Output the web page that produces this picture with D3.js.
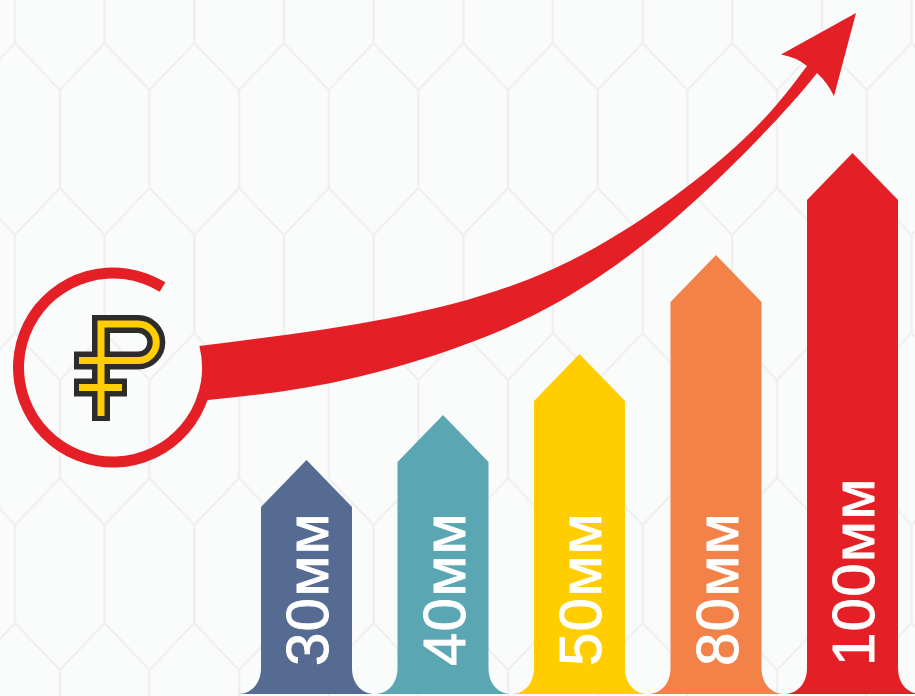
<!DOCTYPE html>
<html>
<head>
<meta charset="utf-8">
<script src="https://cdn.jsdelivr.net/npm/d3@7"></script>
<style>
html,body{margin:0;padding:0;background:#fafbfb;overflow:hidden}
svg{display:block}
</style>
</head>
<body>
<svg id="chart" width="915" height="696"></svg>
<script>
const categories = ["30мм","40мм","50мм","80мм","100мм"];
const values = [30,40,50,80,100];
const colors = ["#566b91","#5aa7b3","#ffcd00","#f28248","#e41f26"];
const trendUpper = [[199,346],[390,318],[553,269],[680,192],[760,123],[807,66]];
const trendLower = [[208,400],[340,381],[490,335],[603,274],[697,199],[780,116],[817,73]];

const W = 915, H = 696, base = 694;
const svg = d3.select("#chart");
const BG = "#fafbfb", GRID = "#f0f0f1", RED = "#e41f26";

svg.append("rect").attr("width",W).attr("height",H).attr("fill",BG);

const grid = d3.path();
const dx = 89.65;
d3.range(-1,11).forEach(k=>{
  const xa = 15 + k*dx, xb = xa + dx/2;
  d3.range(-1,3).forEach(r=>{
    const t = 43 + r*290;
    grid.moveTo(xa,t-98); grid.lineTo(xa,t);
    grid.lineTo(xb,t+47);
    grid.lineTo(xa+dx,t);
    grid.moveTo(xb,t+47); grid.lineTo(xb,t+145);
    grid.lineTo(xa,t+192);
    grid.moveTo(xb,t+145); grid.lineTo(xa+dx,t+192);
  });
});
svg.append("path").attr("d",grid.toString()).attr("fill","none").attr("stroke",GRID).attr("stroke-width",2.5);

const x = d3.scalePoint().domain(categories).range([306.5,852.5]);
const y = d3.scaleLinear().domain(values).range([460,415,354,255,153]);
const hw = 45.5, shoulder = 47, flare = 23, flareH = 26;

const bars = svg.append("g").selectAll("g").data(categories).join("g");
bars.append("path")
  .attr("fill",(d,i)=>colors[i])
  .attr("d",(d,i)=>{
    const c = x(d), top = y(values[i]);
    const p = d3.path();
    p.moveTo(c,top);
    p.lineTo(c+hw,top+shoulder);
    p.lineTo(c+hw,base-flareH);
    p.bezierCurveTo(c+hw,base-10,c+hw+10,base,c+hw+flare,base);
    p.lineTo(c-hw-flare,base);
    p.bezierCurveTo(c-hw-10,base,c-hw,base-10,c-hw,base-flareH);
    p.lineTo(c-hw,top+shoulder);
    p.closePath();
    return p.toString();
  });
bars.append("text")
  .attr("transform",d=>`translate(${x(d)+21.5},666) rotate(-90)`)
  .attr("font-family","'Liberation Sans', sans-serif")
  .attr("font-size",60)
  .attr("letter-spacing",1.2)
  .attr("fill","#fff")
  .attr("stroke","#fff")
  .attr("stroke-width",0.9)
  .text(d=>d);

const line = d3.line().curve(d3.curveNatural);
const upper = line(trendUpper);
const lower = line(trendLower.slice().reverse());
const R = 89;
svg.append("path").attr("fill",RED).attr("d",
  upper + "Q796,57 781,54.5L856,13L834,96Q827,82 817,73" +
  "L" + lower.slice(1) +
  "L197,397A"+R+","+R+" 0 0 0 199.4,346Z");

svg.append("path")
  .attr("transform","translate(113,367.5)")
  .attr("fill",RED)
  .attr("d",d3.arc()({innerRadius:R,outerRadius:100,startAngle:107*Math.PI/180,endAngle:(360+31.6)*Math.PI/180}));

const dark = "M101,421V324H138A18.3,18.3 0 0 1 138,360.6H74M74,387.5H127";
const gold = "M101,416V324H138A18.3,18.3 0 0 1 138,360.6H79M79,387.5H122";
svg.append("path").attr("d",dark).attr("fill","none").attr("stroke","#2d2c2b").attr("stroke-width",18).attr("stroke-linejoin","miter");
svg.append("path").attr("d",gold).attr("fill","none").attr("stroke","#ffcd00").attr("stroke-width",7).attr("stroke-linejoin","miter");
</script>
</body>
</html>
